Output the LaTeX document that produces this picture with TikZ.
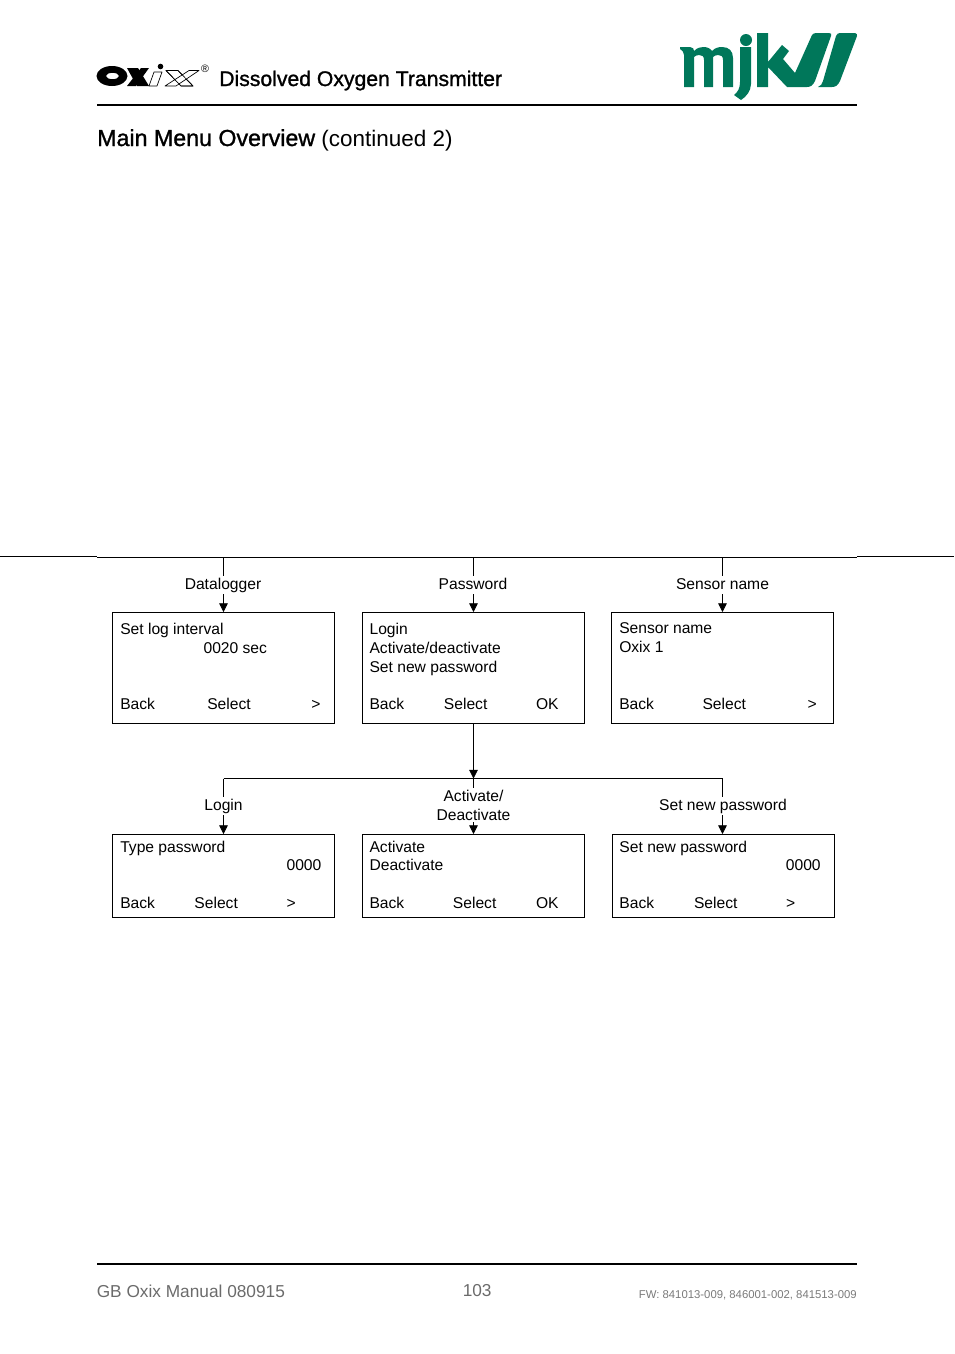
\documentclass[tikz,border=0pt]{standalone}
\usepackage{fontspec}
\setmainfont{Liberation Sans}
\newfontfamily\headfont[FakeBold=1.2]{Liberation Sans}
\usetikzlibrary{arrows.meta}
\definecolor{mjkgreen}{HTML}{00775A}
\tikzset{
  x=0.75pt,y=-0.75pt,
  screen/.style={draw=black,line width=0.75pt,fill=none,inner sep=0pt,minimum width=166.5pt},
  tall/.style={screen,minimum height=83.25pt},
  short/.style={screen,minimum height=62.25pt},
  txt/.style={anchor=base west,inner sep=0pt,font=\fontsize{11.72pt}{13pt}\selectfont},
  lab/.style={txt,anchor=base,align=center,fill=white,inner sep=1.2pt,text height=8.6pt,text depth=2.6pt},
  lab2/.style={txt,anchor=center,align=center,fill=white,inner sep=1.2pt},
  conn/.style={line width=0.6pt,draw=black},
  arr/.style={conn,-{Triangle[width=6.5pt,length=6.5pt]}},
  rule/.style={line width=1.5pt,draw=black},
  foot/.style={anchor=base west,inner sep=0pt,text=black!58,font=\fontsize{12.95pt}{15pt}\selectfont},
  footsmall/.style={anchor=base east,inner sep=0pt,text=black!52,font=\fontsize{8.5pt}{10pt}\selectfont},
  outline/.style={draw=black,fill=white,line width=0.5pt,line join=round}
}
\begin{document}
\begin{tikzpicture}
\useasboundingbox (0,0) rectangle (954,1354);
% header rules
\coordinate (r1a) at (97,105); \coordinate (r1b) at (857,105);
\draw[rule] (r1a) -- (r1b);
\coordinate (r2a) at (97,1264); \coordinate (r2b) at (857,1264);
\draw[rule] (r2a) -- (r2b);
% Oxix logo
\fill[black,even odd rule] (112,76) ellipse [x radius=15.5,y radius=10]
  (112.5,76) ellipse [x radius=6.5,y radius=3.2];
\fill[black] (127,68) -- (138,68) -- (149,86) -- (137,86) -- cycle;
\fill[black] (141,68) -- (149,68) -- (136,86) -- (127,86) -- cycle;
\draw[outline] (154,72) -- (162,72) -- (157,86) -- (149,86) -- cycle;
\fill[black] (160.5,66.5) circle [radius=2.8];
\draw[outline] (166,70.5) -- (178,70.5) -- (193,86) -- (181,86) -- cycle;
\draw[outline] (189,70.5) -- (199,70.5) -- (176,86) -- (165,86) -- cycle;
\draw[outline,fill=none] (166,70.5) -- (178,70.5) -- (193,86) -- (181,86) -- cycle;
\node[inner sep=0pt,font=\fontsize{8pt}{9pt}\selectfont] (reg) at (205,69) {®};
% header text
\node[anchor=base west,inner sep=0pt,font=\headfont\fontsize{15.88pt}{18pt}\selectfont] (title) at (219,86) {Dissolved Oxygen Transmitter};
\node[anchor=base west,inner sep=0pt,font=\fontsize{16.85pt}{20pt}\selectfont] (heading) at (97,146) {{\headfont\fontsize{17.4pt}{20pt}\selectfont Main Menu Overview} (continued 2)};
% mjk logo
\begin{scope}[mjkgreen]
\fill (680,47) -- (690,47) .. controls (693,47) and (694,49) .. (694,51)
  .. controls (697,48) and (700,47) .. (703,47) .. controls (707,47) and (710,48) .. (712,51)
  .. controls (715,48) and (718,47) .. (722,47) .. controls (729,47) and (733,51) .. (733,58)
  -- (733,87) -- (723,87) -- (723,60) .. controls (723,56) and (721,55) .. (718,55)
  .. controls (716,55) and (714,56) .. (713,57) -- (713,87) -- (704,87) -- (704,60)
  .. controls (704,56) and (702,55) .. (699,55) .. controls (697,55) and (695,56) .. (694,57)
  -- (694,87) -- (684,87) -- (684,55) .. controls (684,52) and (682,50) .. (680,49) -- cycle;
\fill (746,40) circle [radius=6];
\fill (740,47) -- (751,47) -- (751,84) .. controls (751,91) and (746,97) .. (741,100)
  -- (734,95) .. controls (738,92) and (740,88) .. (740,82) -- cycle;
\fill (757,33) -- (768,33) -- (768,62) -- (782,45) -- (789,51) -- (783,59) -- (795,73)
  -- (812,35) .. controls (813,34) and (814,33) .. (816,33) -- (829,33)
  .. controls (831,33) and (832,34) .. (831,36) -- (815,81)
  .. controls (813,85) and (811,87) .. (807,87) -- (787,87) -- (768,67) -- (768,87) -- (757,87) -- cycle;
\fill (840,33) -- (855,33) .. controls (857,33) and (857,35) .. (857,36) -- (840,81)
  .. controls (838,85) and (836,87) .. (832,87) -- (818,87) .. controls (821,86) and (822,84) .. (823,81)
  -- (836,36) .. controls (837,34) and (838,33) .. (840,33) -- cycle;
\end{scope}
% long horizontal lines
\coordinate (h0) at (0,556.5); \coordinate (h1) at (97,556.5);
\coordinate (h2) at (97,557.5); \coordinate (h5) at (857,557.5);
\coordinate (h6) at (857,556.5); \coordinate (h7) at (954,556.5);
\draw[conn] (h0) -- (h1); \draw[conn] (h2) -- (h5); \draw[conn] (h6) -- (h7);
% screens
\node[tall] (a) at (223.5,668) {};
\node[tall] (b) at (473.5,668) {};
\node[tall] (c) at (722.5,668) {};
\node[short] (d) at (223.5,876) {};
\node[short] (e) at (473.5,876) {};
\node[short] (f) at (723.5,876) {};
% connector anchors
\coordinate (ta) at (223.5,557.5); \coordinate (tb) at (473.5,557.5); \coordinate (tc) at (722.5,557.5);
\coordinate (j) at (473.5,778.5);
\coordinate (jd) at (223.5,778.5); \coordinate (jf) at (722.5,778.5);
\draw[conn] (jd) -- (jf);
% labels
\node[lab] (la) at (223,589) {Datalogger};
\node[lab] (lb) at (473,589) {Password};
\node[lab] (lc) at (722.5,589) {Sensor name};
\node[lab] (ld) at (223.5,810) {Login};
\node[lab2] (le) at (473.5,805.3) {Activate/\\[1pt]Deactivate};
\node[lab] (lf) at (723,810) {Set new password};
% connectors
\draw[conn] (ta) -- (ta |- la.north); \draw[arr] (ta |- la.south) -- (a.north);
\draw[conn] (tb) -- (tb |- lb.north); \draw[arr] (tb |- lb.south) -- (b.north);
\draw[conn] (tc) -- (tc |- lc.north); \draw[arr] (tc |- lc.south) -- (c.north);
\draw[arr] (b.south) -- (j);
\draw[conn] (jd) -- (ld); \draw[arr] (ld) -- (d.north);
\draw[conn] (j) -- (le); \draw[arr] (le) -- (e.north);
\draw[conn] (jf) -- (jf |- lf.north); \draw[arr] (jf |- lf.south) -- (jf |- f.north);
% screen a
\node[txt] (a1) at (120,634) {Set log interval};
\node[txt] (a2) at (203.3,653) {0020 sec};
\node[txt] (a3) at (120,709) {Back};
\node[txt] (a4) at (207,709) {Select};
\node[txt] (a5) at (311,709) {>};
% screen b
\node[txt] (b1) at (369.3,634) {Login};
\node[txt] (b2) at (369.3,653) {Activate/deactivate};
\node[txt] (b3) at (369.3,672) {Set new password};
\node[txt] (b4) at (369.3,709) {Back};
\node[txt] (b5) at (443.7,709) {Select};
\node[txt] (b6) at (535.8,709) {OK};
% screen c
\node[txt] (c1) at (619,633) {Sensor name};
\node[txt] (c2) at (619,652) {Oxix 1};
\node[txt] (c3) at (619,709) {Back};
\node[txt] (c4) at (702.3,709) {Select};
\node[txt] (c5) at (807.3,709) {>};
% screen d
\node[txt] (d1) at (120,852) {Type password};
\node[txt] (d2) at (286.3,870) {0000};
\node[txt] (d3) at (120,908) {Back};
\node[txt] (d4) at (194.2,908) {Select};
\node[txt] (d5) at (286.3,908) {>};
% screen e
\node[txt] (e1) at (369.3,852) {Activate};
\node[txt] (e2) at (369.3,870) {Deactivate};
\node[txt] (e3) at (369.3,908) {Back};
\node[txt] (e4) at (452.7,908) {Select};
\node[txt] (e5) at (535.8,908) {OK};
% screen f
\node[txt] (f1) at (619.2,852) {Set new password};
\node[txt] (f2) at (785.6,870) {0000};
\node[txt] (f3) at (619.2,908) {Back};
\node[txt] (f4) at (693.8,908) {Select};
\node[txt] (f5) at (785.8,908) {>};
% footer
\node[foot] (fl) at (96.5,1297) {GB Oxix Manual 080915};
\node[foot] (fc) at (462.5,1296.5) {103};
\node[footsmall] (fr) at (857,1298) {FW: 841013-009, 846001-002, 841513-009};
\end{tikzpicture}
\end{document}
